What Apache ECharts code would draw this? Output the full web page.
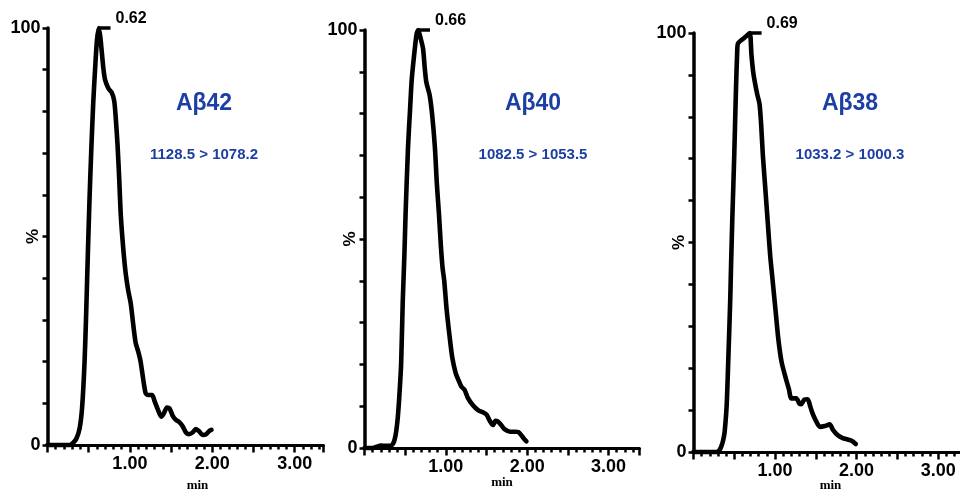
<!DOCTYPE html>
<html>
<head>
<meta charset="utf-8">
<script src="https://cdn.jsdelivr.net/npm/echarts@6/dist/echarts.min.js"></script>
<style>html,body{margin:0;padding:0;background:#fff}#c{width:960px;height:489px}</style>
</head>
<body>
<div id="c"></div>
<script>
// ---- data (time in min, relative intensity in %) ----
const titles = ['Aβ42', 'Aβ40', 'Aβ38'];
const transitions = ['1128.5 > 1078.2', '1082.5 > 1053.5', '1033.2 > 1000.3'];
const peakTimes = [0.62, 0.66, 0.69];
const peakLabels = ['0.62', '0.66', '0.69'];
const xTickLabels = ['1.00', '2.00', '3.00'];
const yTickLabels = ['0', '100'];

const trace42 = [[0,0],[0.1,0],[0.2,0],[0.27,0],[0.31,0.5],[0.35,1.5],[0.39,4],[0.42,9],[0.45,20],[0.47,32],[0.49,46],[0.51,59],[0.53,70],[0.555,82],[0.58,91],[0.60,97],[0.62,100],[0.64,98],[0.66,94],[0.68,90],[0.70,87.5],[0.74,85.5],[0.78,84.5],[0.81,82.5],[0.83,78],[0.85,72],[0.87,64],[0.89,55],[0.92,47],[0.95,41],[0.98,37],[1.01,34],[1.04,29],[1.07,24.5],[1.10,22.5],[1.13,20],[1.16,16],[1.19,12.5],[1.22,12],[1.27,12],[1.30,10.5],[1.34,8.5],[1.38,6.8],[1.41,7.5],[1.45,9],[1.48,8.8],[1.52,7],[1.56,6],[1.60,5.5],[1.64,4.5],[1.68,3],[1.72,2.6],[1.76,3],[1.80,3.8],[1.84,3.3],[1.88,2.4],[1.92,2.5],[1.96,3.3],[1.99,3.6]];
const trace40 = [[0,0],[0.1,0],[0.15,0.3],[0.2,0.6],[0.27,0.5],[0.32,0.5],[0.35,1],[0.37,2],[0.39,4],[0.41,7.5],[0.43,13],[0.45,20],[0.47,35],[0.49,46],[0.505,56],[0.535,72],[0.56,81],[0.58,88],[0.61,94],[0.64,99],[0.66,100],[0.69,98],[0.72,95.5],[0.74,91],[0.76,87.5],[0.80,84.5],[0.83,80],[0.865,72],[0.89,63],[0.915,56],[0.94,48],[0.96,43],[0.98,40],[1.01,33],[1.05,26],[1.08,21.5],[1.12,18],[1.16,16],[1.19,14.7],[1.23,13.9],[1.27,12],[1.33,10.3],[1.40,9],[1.46,8.5],[1.50,8],[1.54,6.5],[1.58,5.5],[1.61,6.5],[1.64,6.3],[1.68,5.5],[1.72,4.5],[1.79,3.9],[1.85,3.9],[1.89,3.8],[1.93,3],[1.96,2.2],[1.99,1.6]];
const trace38 = [[0,0],[0.1,0],[0.2,0],[0.29,0],[0.32,0.5],[0.34,1.3],[0.36,2.5],[0.38,4.5],[0.40,9],[0.41,12.5],[0.43,24],[0.45,36],[0.46,44],[0.475,55],[0.50,71],[0.52,86],[0.535,95],[0.545,97.5],[0.60,98.5],[0.65,99.3],[0.69,100],[0.71,95],[0.73,91],[0.75,88.5],[0.78,85.5],[0.81,83],[0.83,78],[0.85,71],[0.88,63],[0.91,55],[0.94,47],[0.97,41],[1.01,33],[1.04,27],[1.08,21.5],[1.14,17],[1.17,15],[1.20,12.8],[1.26,12.8],[1.30,11.5],[1.32,11.4],[1.36,12.5],[1.40,12.6],[1.43,11],[1.46,9.2],[1.50,7.5],[1.55,6],[1.61,6.2],[1.67,6.6],[1.71,5.3],[1.77,4],[1.83,3.3],[1.89,3],[1.94,2.7],[1.99,1.9]];
const traces = [trace42, trace40, trace38];

// ---- layout ----
const grids = [
  {left: 47.5, top: 28, width: 276, height: 417, xmax: 3.35, minGap: 34, minPad: [0, 0, 0, 24]},
  {left: 364.5, top: 30, width: 275, height: 418, xmax: 3.38, minGap: 28.5, minPad: 0},
  {left: 693.5, top: 33, width: 274, height: 419, xmax: 3.36, minGap: 27.5, minPad: 0}
];
const peakLineLen = 0.145;
const blue = '#1d3fa3';
const FONT = 'Liberation Sans, Arial, sans-serif';

const option = {
  backgroundColor: '#fff',
  animation: false,
  grid: [], xAxis: [], yAxis: [], series: [], graphic: []
};

grids.forEach((g, i) => {
  option.grid.push({left: g.left, top: g.top, width: g.width, height: g.height, containLabel: false, outerBoundsMode: 'none'});
  // main x axis: line, minor (0.1) ticks, labels
  option.xAxis.push({
    type: 'value', gridIndex: i, min: 0, max: g.xmax, interval: 0.1, position: 'bottom',
    name: 'min', nameLocation: 'middle', nameGap: g.minGap, nameMoveOverlap: false,
    nameTextStyle: {fontFamily: 'Liberation Serif, serif', fontWeight: 'bold', fontSize: 13, color: '#000', padding: g.minPad},
    axisLine: {show: true, onZero: false, lineStyle: {color: '#000', width: 3}},
    axisTick: {show: true, inside: false, length: 4.5, lineStyle: {color: '#000', width: 2.5}},
    splitLine: {show: false},
    axisLabel: {
      show: true, margin: 10, interval: 0, showMaxLabel: false, showMinLabel: false, hideOverlap: false,
      fontFamily: FONT, fontWeight: 'bold', fontSize: 18, color: '#000',
      formatter: v => {
        const k = Math.round(v);
        return (Math.abs(v - k) < 1e-6 && k >= 1 && k <= xTickLabels.length) ? xTickLabels[k - 1] : '';
      }
    }
  });
  // overlay x axis: major (0.5) ticks only
  option.xAxis.push({
    type: 'value', gridIndex: i, min: 0, max: g.xmax, interval: 0.5, position: 'bottom', offset: 0,
    axisLine: {show: false, onZero: false},
    axisTick: {show: true, inside: false, length: 7.5, lineStyle: {color: '#000', width: 2.5}},
    splitLine: {show: false},
    axisLabel: {show: false}
  });
  option.yAxis.push({
    type: 'value', gridIndex: i, min: 0, max: 100, interval: 10,
    name: '%', nameLocation: 'middle', nameGap: 6, nameRotate: 90, nameMoveOverlap: false,
    nameTextStyle: {fontFamily: FONT, fontWeight: 'bold', fontSize: 17, color: '#000'},
    axisLine: {show: true, lineStyle: {color: '#000', width: 3.5}},
    axisTick: {show: true, inside: false, length: 5, lineStyle: {color: '#000', width: 2.5}},
    splitLine: {show: false},
    axisLabel: {
      show: true, margin: 7, fontFamily: FONT, fontWeight: 'bold', fontSize: 18, color: '#000',
      formatter: v => (v === 0 ? yTickLabels[0] : (v === 100 ? yTickLabels[1] : ''))
    }
  });
  option.series.push({
    type: 'line', xAxisIndex: 2 * i, yAxisIndex: i, data: traces[i],
    smooth: 0.25, symbol: 'none', clip: false,
    lineStyle: {color: '#000', width: 4.6, join: 'round', cap: 'round'}
  });
  option.series.push({
    type: 'line', xAxisIndex: 2 * i, yAxisIndex: i, clip: false, symbol: 'none',
    lineStyle: {color: '#000', width: 3.5},
    data: [[peakTimes[i], 100], [peakTimes[i] + peakLineLen, 100]],
    endLabel: {show: true, distance: 5, offset: [0, -9], formatter: peakLabels[i],
      fontFamily: FONT, fontWeight: 'bold', fontSize: 16, color: '#000'}
  });
});

// titles and transitions
const titleX = [204, 533, 850];
titles.forEach((t, i) => {
  option.graphic.push({type: 'text', x: titleX[i], y: 104, style: {text: t, fill: blue, font: 'bold 23px ' + FONT, textAlign: 'center', textVerticalAlign: 'middle'}});
  option.graphic.push({type: 'text', x: titleX[i], y: 155, style: {text: transitions[i], fill: blue, font: 'bold 15px ' + FONT, textAlign: 'center', textVerticalAlign: 'middle'}});
});

const chart = echarts.init(document.getElementById('c'), null, {renderer: 'canvas'});
chart.setOption(option);
</script>
</body>
</html>
